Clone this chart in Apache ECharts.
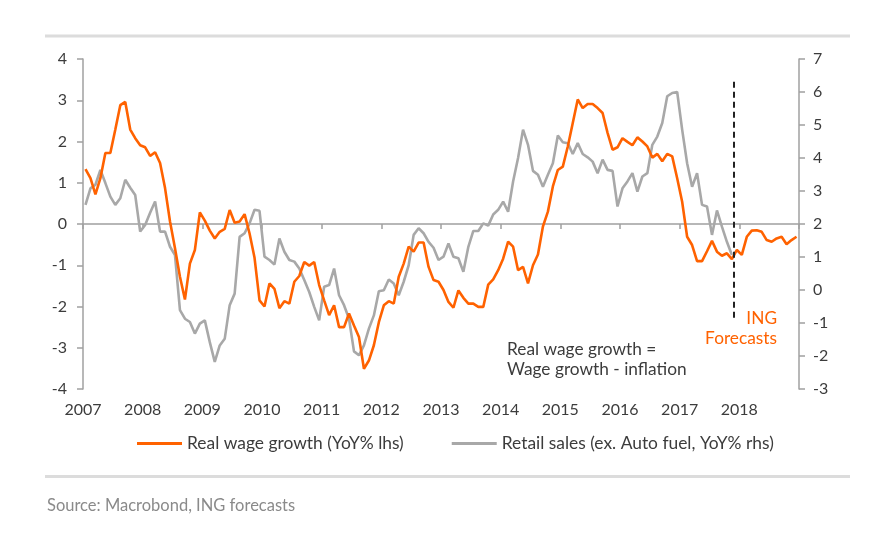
<!DOCTYPE html>
<html>
<head>
<meta charset="utf-8">
<script src="https://cdn.jsdelivr.net/npm/echarts@6/dist/echarts.min.js"></script>
<style>
html,body{margin:0;padding:0;background:#fff;}
#chart{width:891px;height:556px;}
</style>
</head>
<body>
<div id="chart"></div>
<script>
// Monthly data, Jan 2007 onwards
const startYear = 2007;
const realWageGrowth = [
 1.33, 1.11, 0.72, 1.11, 1.72, 1.72, 2.29, 2.88, 2.96, 2.29, 2.08, 1.91,
 1.86, 1.65, 1.74, 1.48, 0.87, 0.06, -0.59, -1.28, -1.83, -0.96, -0.63, 0.28,
 0.08, -0.16, -0.35, -0.19, -0.12, 0.34, 0.03, 0.06, 0.24, -0.23, -0.82, -1.85,
 -2.00, -1.44, -1.57, -2.04, -1.87, -1.93, -1.40, -1.26, -0.92, -1.01, -0.92, -1.48,
 -1.85, -2.21, -1.97, -2.50, -2.50, -2.17, -2.46, -2.74, -3.51, -3.31, -2.94, -2.38,
 -1.97, -1.87, -1.93, -1.28, -0.96, -0.55, -0.67, -0.45, -0.45, -1.04, -1.36, -1.40,
 -1.60, -1.89, -2.03, -1.61, -1.79, -1.93, -1.93, -2.01, -2.01, -1.47, -1.34, -1.12,
 -0.84, -0.43, -0.55, -1.12, -1.04, -1.44, -1.00, -0.74, -0.06, 0.30, 0.91, 1.31,
 1.39, 1.88, 2.45, 3.02, 2.81, 2.91, 2.91, 2.81, 2.69, 2.21, 1.80, 1.86,
 2.08, 1.99, 1.91, 2.10, 2.00, 1.88, 1.61, 1.70, 1.52, 1.70, 1.64, 1.11,
 0.54, -0.31, -0.51, -0.90, -0.90, -0.66, -0.41, -0.67, -0.77, -0.71, -0.85, -0.63,
 -0.75, -0.31, -0.16, -0.15, -0.19, -0.39, -0.43, -0.35, -0.31, -0.49, -0.39, -0.31
];
const retailSales = [
 2.58, 3.08, 3.19, 3.64, 3.24, 2.83, 2.58, 2.78, 3.34, 3.10, 2.88, 1.77,
 1.97, 2.34, 2.68, 1.77, 1.77, 1.31, 1.06, -0.61, -0.87, -0.97, -1.32, -1.02,
 -0.92, -1.58, -2.18, -1.68, -1.48, -0.46, -0.11, 1.61, 1.72, 2.02, 2.43, 2.40,
 1.01, 0.91, 0.77, 1.56, 1.16, 0.91, 0.86, 0.65, 0.30, -0.06, -0.51, -0.92,
 0.10, 0.15, 0.65, -0.16, -0.46, -0.87, -1.86, -1.98, -1.68, -1.17, -0.77, -0.04,
 -0.01, 0.32, 0.20, -0.16, 0.25, 0.75, 1.67, 1.87, 1.72, 1.46, 1.28, 0.91,
 1.01, 1.41, 1.01, 0.96, 0.55, 1.31, 1.79, 1.79, 2.02, 1.95, 2.29, 2.43,
 2.68, 2.37, 3.29, 4.00, 4.86, 4.40, 3.61, 3.49, 3.13, 3.49, 3.84, 4.68,
 4.48, 4.45, 4.12, 4.45, 4.12, 4.02, 3.89, 3.54, 3.95, 3.64, 3.61, 2.53,
 3.08, 3.29, 3.54, 2.98, 3.44, 3.54, 4.40, 4.65, 5.06, 5.87, 5.97, 6.00,
 4.86, 3.84, 3.13, 3.54, 2.58, 2.53, 1.67, 2.41, 1.92, 1.46, 1.06
];
const seriesNames = ['Real wage growth (YoY% lhs)', 'Retail sales (ex. Auto fuel, YoY% rhs)'];
const xRange = [2007, 2019];
const leftRange = [-4, 4];
const rightRange = [-3, 7];
const forecastStart = 2017.9;
const forecastLineSpan = [3.45, -2.32];
const noteText = 'Real wage growth =\nWage growth - inflation';
const forecastText = 'ING\nForecasts';
const sourceText = 'Source: Macrobond, ING forecasts';

const ORANGE = '#FF6200';
const GREY = '#A8A8A8';
const AXIS = '#A0A0A0';
const TXT = '#3c3c3c';
const FONT = 'Lato';

const toXY = arr => arr.map((v, i) => [startYear + (i + 0.5) / 12, v]);

const chart = echarts.init(document.getElementById('chart'), null, {renderer: 'canvas'});
chart.setOption({
  backgroundColor: '#fff',
  animation: false,
  textStyle: {fontFamily: FONT},
  grid: {left: 83, right: 92, top: 59, bottom: 167, containLabel: false},
  legend: {
    left: 137, top: 435, padding: 0, itemGap: 48, itemWidth: 45, itemHeight: 3, icon: 'rect',
    textStyle: {fontFamily: FONT, fontSize: 17.4, color: TXT},
    data: seriesNames
  },
  xAxis: [
    {
      type: 'value', min: xRange[0], max: xRange[1], interval: 1, position: 'bottom',
      axisLine: {show: false, onZero: false}, axisTick: {show: false}, splitLine: {show: false},
      axisLabel: {
        margin: 13, fontSize: 16, color: TXT, fontFamily: FONT,
        formatter: v => (v >= xRange[1] ? '' : String(v))
      }
    },
    {
      type: 'value', min: xRange[0], max: xRange[1], interval: 1, position: 'bottom',
      axisLine: {show: true, onZero: true, onZeroAxisIndex: 0, lineStyle: {color: AXIS, width: 1.5}},
      axisTick: {show: true, length: 5, lineStyle: {color: AXIS, width: 1.5}},
      axisLabel: {show: false}, splitLine: {show: false}
    }
  ],
  yAxis: [
    {
      type: 'value', min: leftRange[0], max: leftRange[1], interval: 1, position: 'left',
      axisLine: {show: true, lineStyle: {color: AXIS, width: 1.5}},
      axisTick: {show: true, length: 6, lineStyle: {color: AXIS, width: 1.5}},
      splitLine: {show: false},
      axisLabel: {margin: 16, fontSize: 16, color: TXT, fontFamily: FONT}
    },
    {
      type: 'value', min: rightRange[0], max: rightRange[1], interval: 1, position: 'right',
      axisLine: {show: true, lineStyle: {color: AXIS, width: 1.5}},
      axisTick: {show: true, length: 6, lineStyle: {color: AXIS, width: 1.5}},
      splitLine: {show: false},
      axisLabel: {margin: 14, fontSize: 16, color: TXT, fontFamily: FONT}
    }
  ],
  series: [
    {
      name: seriesNames[0], type: 'line', xAxisIndex: 0, yAxisIndex: 0,
      data: toXY(realWageGrowth), showSymbol: false, symbol: 'none',
      lineStyle: {color: ORANGE, width: 2.6}, itemStyle: {color: ORANGE}, z: 3,
      markLine: {
        silent: true, symbol: 'none', label: {show: false},
        lineStyle: {color: '#222', width: 2, type: [6, 4]},
        data: [[{coord: [forecastStart, forecastLineSpan[0]]}, {coord: [forecastStart, forecastLineSpan[1]]}]]
      }
    },
    {
      name: seriesNames[1], type: 'line', xAxisIndex: 0, yAxisIndex: 1,
      data: toXY(retailSales), showSymbol: false, symbol: 'none',
      lineStyle: {color: GREY, width: 2.6}, itemStyle: {color: GREY}, z: 2
    }
  ],
  graphic: [
    {type: 'rect', left: 45, top: 34.5, shape: {width: 805, height: 3}, style: {fill: '#dcdcdc'}},
    {type: 'rect', left: 45, top: 475, shape: {width: 805, height: 3}, style: {fill: '#dcdcdc'}},
    {type: 'text', left: 47, top: 497, style: {text: sourceText, fill: '#8a8a8a', font: '16.5px ' + FONT}},
    {type: 'text', left: 507, top: 339, style: {text: noteText, fill: TXT, font: '17.3px ' + FONT, lineHeight: 20}},
    {type: 'text', x: 777, y: 308, style: {text: forecastText, fill: ORANGE, font: '17.3px ' + FONT, lineHeight: 20, align: 'right', verticalAlign: 'top'}}
  ]
});
</script>
</body>
</html>
